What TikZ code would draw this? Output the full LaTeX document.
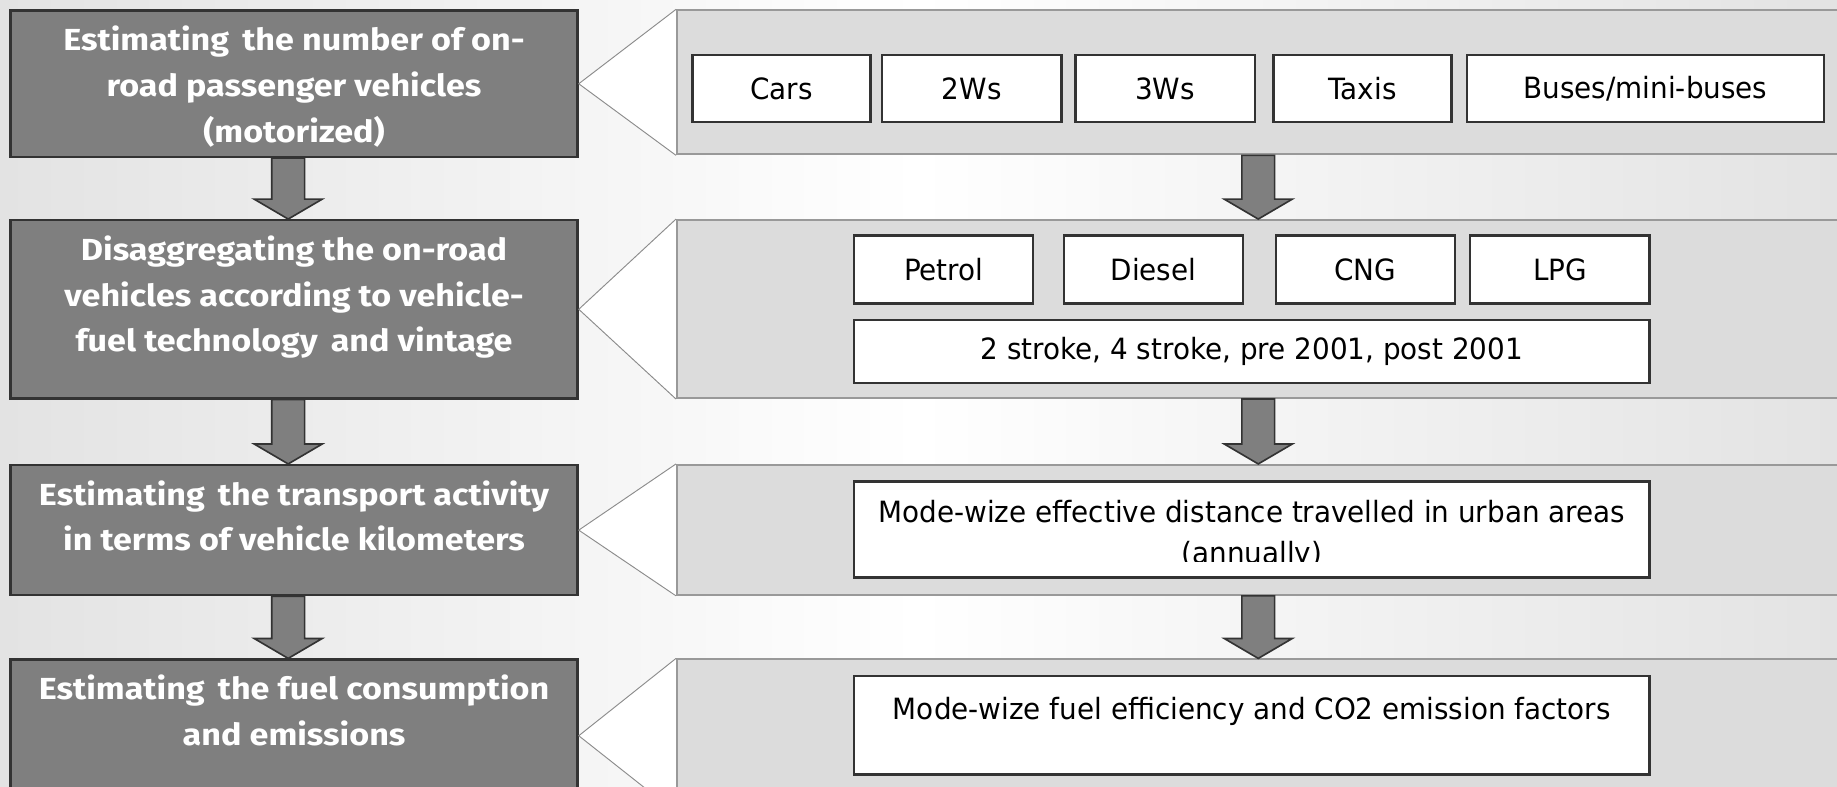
\documentclass[tikz,border=0pt]{standalone}
\usepackage{fontspec}
\setmainfont{DejaVu Sans}
\newfontfamily\lfont[FakeStretch=1.12]{Fira Sans}
\newfontfamily\rfont[FakeStretch=0.95]{DejaVu Sans}
\usetikzlibrary{calc}
\definecolor{lboxfill}{HTML}{7F7F7F}
\definecolor{lboxdraw}{HTML}{333333}
\definecolor{panelfill}{HTML}{DCDCDC}
\definecolor{paneldraw}{HTML}{999999}
\definecolor{calloutline}{HTML}{8C8C8C}
\tikzset{
  lbox/.style={draw=lboxdraw, line width=2pt, fill=lboxfill, anchor=north west, inner sep=0pt, minimum width=484pt},
  panel/.style={draw=paneldraw, line width=1.6pt, fill=panelfill, anchor=north west, inner sep=0pt, minimum width=1010pt},
  wbox/.style={draw=black!80, line width=2pt, fill=white, anchor=north west, inner sep=0pt,
    font=\rfont\fontsize{25}{35}\selectfont},
  rtext/.style={font=\rfont\fontsize{25}{35}\selectfont, align=center, inner sep=0pt},
  ltext/.style={text=white, font=\lfont\bfseries\fontsize{26}{39}\selectfont, align=center, inner sep=0pt, anchor=north},
  callout/.style={draw=calloutline, line width=0.8pt, fill=white},
  blk/.style={draw=lboxdraw, fill=lboxfill, line width=1.4pt, line join=miter}
}
\newcommand\blkarrow[2]{%
  \path[blk] let \p1=(#1), \p2=(#2) in
    (\x1-14pt,\y1) -- (\x1+14pt,\y1) -- (\x1+14pt,\y2+17pt) -- (\x1+29pt,\y2+17pt)
    -- (\x1,\y2) -- (\x1-29pt,\y2+17pt) -- (\x1-14pt,\y2+17pt) -- cycle;}
\begin{document}
\begin{tikzpicture}[x=1pt,y=-1pt]
\clip (0,0) rectangle (1568,671);
\shade[left color=gray!22, right color=gray!22, middle color=white] (0,0) rectangle (1568,671);

% left boxes
\node[lbox, minimum height=125pt] (L1) at (8,8) {};
\node[lbox, minimum height=152pt] (L2) at (8,187) {};
\node[lbox, minimum height=111pt] (L3) at (8,396) {};
\node[lbox, minimum height=130pt] (L4) at (8,562) {};

% panels
\node[panel, minimum height=123pt] (P1) at (577,8) {};
\node[panel, minimum height=152pt] (P2) at (577,187) {};
\node[panel, minimum height=111pt] (P3) at (577,396) {};
\node[panel, minimum height=130pt] (P4) at (577,562) {};

% callout wedges
\foreach \i in {1,...,4}{
  \draw[callout] (P\i.north west) -- (L\i.east) -- (P\i.south west);
}

\node[ltext] (T1) at ([yshift=-14pt]L1.north) {Estimating\, the number of on-\\road passenger vehicles\\(motorized)};
\node[ltext] (T2) at ([yshift=-14pt]L2.north) {Disaggregating the on-road\\vehicles according to vehicle-\\fuel technology\, and vintage};
\node[ltext] (T3) at ([yshift=-14pt]L3.north) {Estimating\, the transport activity\\in terms of vehicle kilometers};
\node[ltext] (T4) at ([yshift=-14pt]L4.north) {Estimating\, the fuel consumption\\and emissions};

% panel 1 items
\node[wbox, minimum width=152pt, minimum height=57pt] (cars) at (590,46) {Cars};
\node[wbox, minimum width=153pt, minimum height=57pt] (tw) at (752,46) {2Ws};
\node[wbox, minimum width=153pt, minimum height=57pt] (thw) at (917,46) {3Ws};
\node[wbox, minimum width=152pt, minimum height=57pt] (taxi) at (1086,46) {Taxis};
\node[wbox, minimum width=305pt, minimum height=57pt] (bus) at (1251,46) {Buses/mini-buses};

% panel 2 items
\node[wbox, minimum width=153pt, minimum height=58pt] (petrol) at (728,200) {Petrol};
\node[wbox, minimum width=153pt, minimum height=58pt] (diesel) at (907,200) {Diesel};
\node[wbox, minimum width=153pt, minimum height=58pt] (cng) at (1088,200) {CNG};
\node[wbox, minimum width=153pt, minimum height=58pt] (lpg) at (1254,200) {LPG};
\node[wbox, minimum width=679pt, minimum height=54pt] (stroke) at (728,272) {2 stroke, 4 stroke, pre 2001, post 2001};

% panel 3 item
\node[wbox, minimum width=679pt, minimum height=82pt] (dist) at (728,410) {};
\begin{scope}
  \clip (728,410) rectangle (1407,479);
  \node[rtext, anchor=north] (distt) at ([yshift=-17pt]dist.north) {Mode-wize effective distance travelled in urban areas\\(annually)};
\end{scope}

% panel 4 item
\node[wbox, minimum width=679pt, minimum height=84pt] (eff) at (728,576) {};
\node[rtext, anchor=north] (efft) at ([yshift=-19pt]eff.north) {Mode-wize fuel efficiency and CO2 emission factors};

% block arrows, left column
\blkarrow{[xshift=-5pt]L1.south}{[xshift=-5pt]L2.north}
\blkarrow{[xshift=-5pt]L2.south}{[xshift=-5pt]L3.north}
\blkarrow{[xshift=-5pt]L3.south}{[xshift=-5pt]L4.north}
% block arrows, right column
\blkarrow{[xshift=497pt]P1.south west}{[xshift=497pt]P2.north west}
\blkarrow{[xshift=497pt]P2.south west}{[xshift=497pt]P3.north west}
\blkarrow{[xshift=497pt]P3.south west}{[xshift=497pt]P4.north west}
\end{tikzpicture}
\end{document}
